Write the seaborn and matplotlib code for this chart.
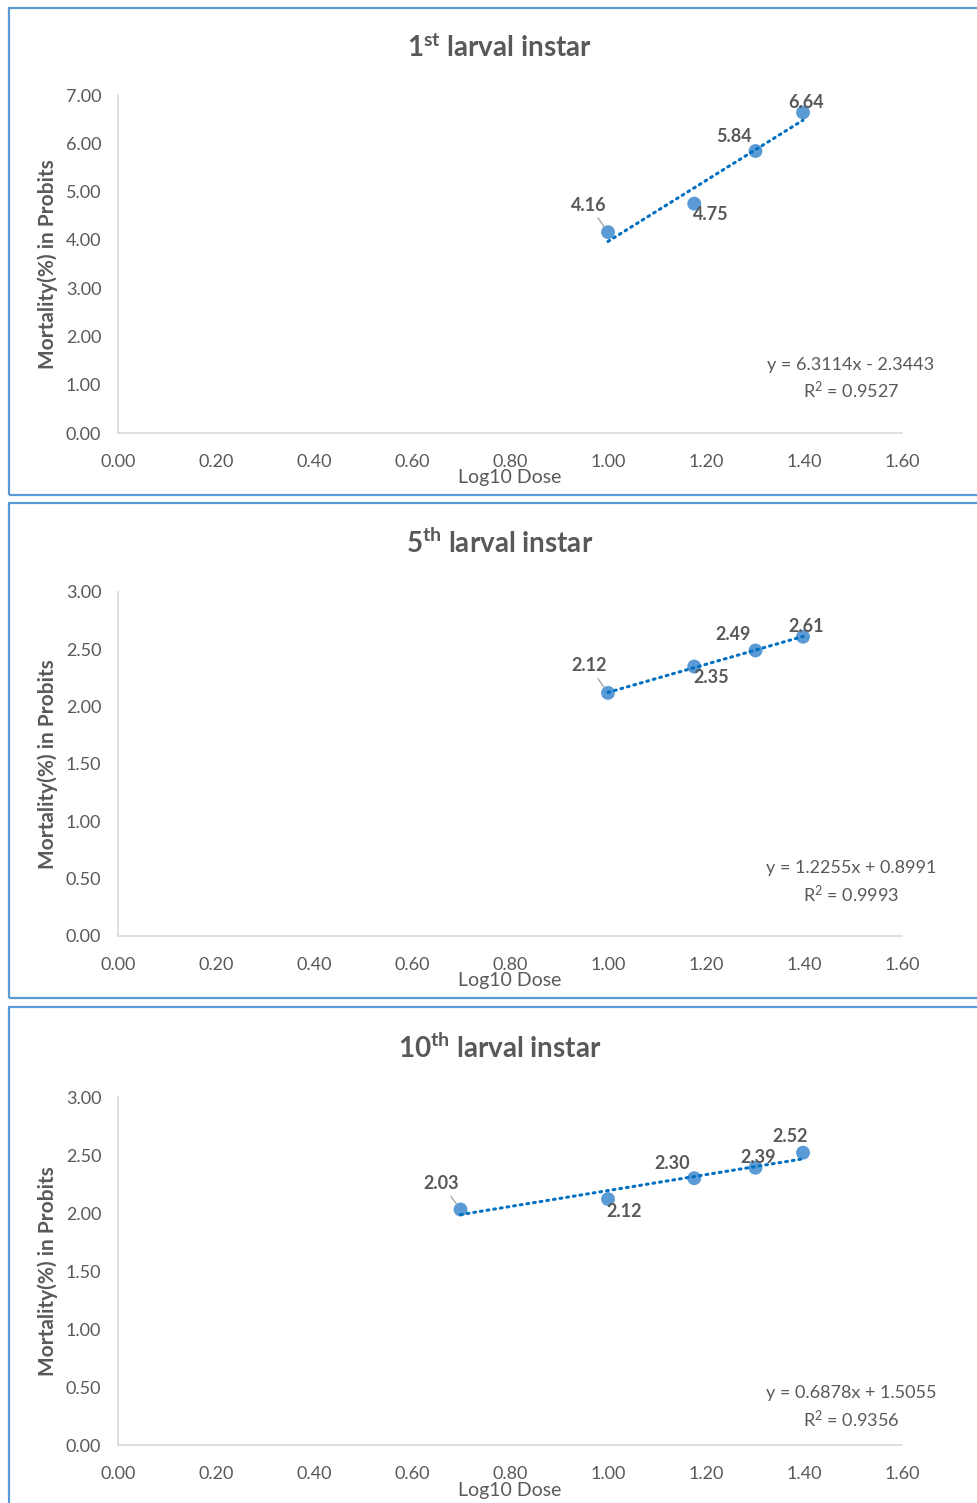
import numpy as np
import pandas as pd
import matplotlib
matplotlib.use("Agg")
import matplotlib.pyplot as plt
import matplotlib.patches as mpatches
import seaborn as sns

# data
dose_1st = [1.00, 1.176, 1.301, 1.398]
probit_1st = [4.16, 4.75, 5.84, 6.64]
fit_1st = (6.3114, -2.3443, 0.9527)

dose_5th = [1.00, 1.176, 1.301, 1.398]
probit_5th = [2.12, 2.35, 2.49, 2.61]
fit_5th = (1.2255, 0.8991, 0.9993)

dose_10th = [0.699, 1.00, 1.176, 1.301, 1.398]
probit_10th = [2.03, 2.12, 2.30, 2.39, 2.52]
fit_10th = (0.6878, 1.5055, 0.9356)

titles = ["1$^{\\mathregular{st}}$ larval instar",
          "5$^{\\mathregular{th}}$ larval instar",
          "10$^{\\mathregular{th}}$ larval instar"]
ymax = [7.0, 3.0, 3.0]
ystep = [1.0, 0.5, 0.5]

# label offsets in pixels (layout only)
offsets = [
    [(-19, 27), (17, -11), (-22, 15), (3, 10)],
    [(-19, 27), (17, -11), (-22, 16), (3, 10)],
    [(-19, 26), (16, -12), (-22, 15), (3, 10), (-13, 16)],
]

sns.set_style("white")
plt.rcParams["font.family"] = ["Lato", "DejaVu Sans"]
plt.rcParams["mathtext.fontset"] = "custom"
plt.rcParams["mathtext.rm"] = "Lato"
plt.rcParams["mathtext.it"] = "Lato:italic"
plt.rcParams["mathtext.bf"] = "Lato:bold"

GRAY = "#595959"
PT_BLUE = "#5B9BD5"
LINE_BLUE = "#0070C0"

W, H = 978, 1503
fig = plt.figure(figsize=(W / 100, H / 100), dpi=100)

# axes boxes in pixels: (y_top, y_bottom), panel borders, title centre, equation y
axes_px = [(95, 433), (592, 936), (1097, 1445)]
borders = [(8, 495), (503, 998), (1007, 1512)]
title_y = [48, 543, 1048]
eq_y = [(0.201, 0.127), (0.198, 0.122), (0.149, 0.072)]

datasets = [(dose_1st, probit_1st, fit_1st),
            (dose_5th, probit_5th, fit_5th),
            (dose_10th, probit_10th, fit_10th)]

for i, (dose, probit, fit) in enumerate(datasets):
    top, bot = axes_px[i]
    ax = fig.add_axes([118 / W, 1 - bot / H, 784 / W, (bot - top) / H])
    df = pd.DataFrame({"dose": dose, "probit": probit})

    slope, icpt, r2 = fit
    xs = [min(dose), max(dose)]
    trend = pd.DataFrame({"dose": xs, "probit": [slope * x + icpt for x in xs]})
    sns.lineplot(data=trend, x="dose", y="probit", ax=ax, color=LINE_BLUE,
                 lw=2.2, linestyle=(0, (0.6, 1.6)), dash_capstyle="round",
                 zorder=3)
    sns.scatterplot(data=df, x="dose", y="probit", ax=ax, color=PT_BLUE,
                    s=100, edgecolor="none", zorder=2)

    for j, (x, y) in enumerate(zip(dose, probit)):
        dx, dy = offsets[i][j]
        kw = {}
        if j == 0:
            kw["arrowprops"] = dict(arrowstyle="-", color="#A6A6A6", lw=1.0,
                                    shrinkA=1, shrinkB=5)
        ax.annotate(f"{y:.2f}", (x, y), xytext=(dx, dy),
                    textcoords="offset pixels", ha="center", va="center",
                    fontsize=13, fontweight="bold", color=GRAY, zorder=4, **kw)

    ax.text(0.935, eq_y[i][0], f"y = {slope:.4f}x {'-' if icpt < 0 else '+'} {abs(icpt):.4f}",
            transform=ax.transAxes, ha="center", va="center", fontsize=13,
            color=GRAY)
    ax.text(0.935, eq_y[i][1], f"R$^2$ = {r2:.4f}", transform=ax.transAxes,
            ha="center", va="center", fontsize=13, color=GRAY)

    ax.set_xlim(0, 1.6)
    ax.set_ylim(0, ymax[i])
    ax.set_xticks(np.arange(0, 1.61, 0.2))
    ax.set_yticks(np.arange(0, ymax[i] + 0.01, ystep[i]))
    ax.set_xticklabels([f"{v:.2f}" for v in np.arange(0, 1.61, 0.2)])
    ax.set_yticklabels([f"{v:.2f}" for v in np.arange(0, ymax[i] + 0.01, ystep[i])])
    ax.tick_params(axis="both", length=0, labelsize=13, labelcolor=GRAY)
    ax.tick_params(axis="x", pad=15)
    ax.tick_params(axis="y", pad=12)
    sns.despine(ax=ax)
    for s in ["left", "bottom"]:
        ax.spines[s].set_color("#D9D9D9")
        ax.spines[s].set_linewidth(1.2)

    ax.set_xlabel("Log10 Dose", fontsize=14, color=GRAY)
    ax.xaxis.set_label_coords(0.5, -0.106)
    ax.set_ylabel("Mortality(%) in Probits", fontsize=15, color=GRAY,
                  fontweight="bold")
    ax.yaxis.set_label_coords(-0.077, 0.5)

    fig.text(0.511, 1 - title_y[i] / H, titles[i], ha="center", va="center",
             fontsize=20, fontweight="bold", color=GRAY)

    b_top, b_bot = borders[i]
    fig.patches.append(mpatches.Rectangle(
        (9 / W, 1 - b_bot / H), 1.0, (b_bot - b_top) / H,
        transform=fig.transFigure, fill=False, edgecolor=PT_BLUE, lw=1.6))

fig.savefig("out.png", dpi=100)
